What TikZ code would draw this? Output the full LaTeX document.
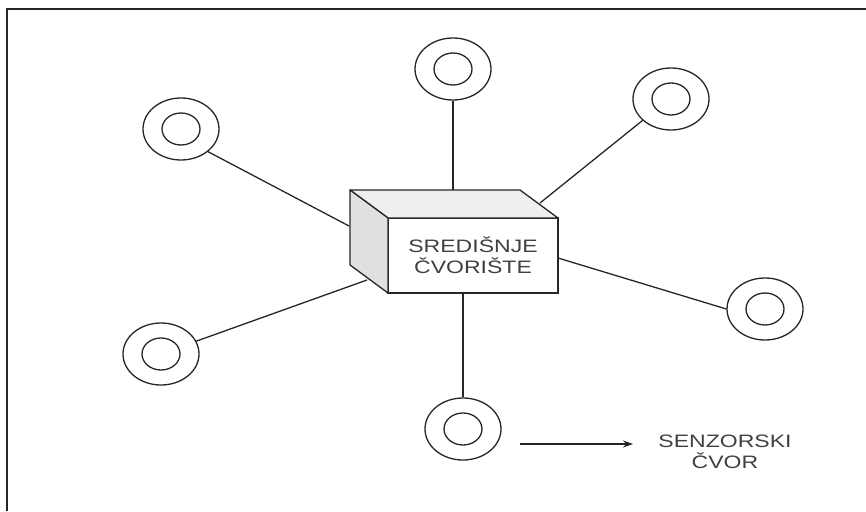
\documentclass[tikz,border=0pt]{standalone}
\usepackage{graphicx}
\usepackage{fontspec}
\setmainfont{Liberation Sans}
\usetikzlibrary{shapes.geometric,arrows.meta}
\definecolor{edge}{HTML}{262626}
\definecolor{txtgray}{HTML}{404040}
\definecolor{topgray}{HTML}{EFEFEF}
\definecolor{sidegray}{HTML}{E0E0E0}
\newcommand{\wide}[1]{\scalebox{1.28}[1]{#1}}

\begin{document}
\begin{tikzpicture}[x=1pt, y=-1pt,
  ring/.style={ellipse, draw=edge, line width=1.3pt, minimum width=76pt, minimum height=62pt, inner sep=0pt,
    path picture={\draw[edge, line width=1.3pt] (path picture bounding box.center) ellipse [x radius=19pt, y radius=16pt];}},
  link/.style={draw=edge, line width=1.3pt},
  txt/.style={text=txtgray, align=center, font=\fontsize{18}{21}\selectfont}]
\useasboundingbox (0,0) rectangle (866,511);
% frame
\draw[edge, line width=2pt] (7,511) -- (7,9) -- (866,9);
% sensor nodes
\foreach \n/\p in {r1/{(181,129)}, r2/{(453,69)}, r3/{(671,99)}, r4/{(765,309)}, r5/{(161,354)}, r6/{(463,429)}}{
\node[ring] (\n) at \p {};
}
% where the links meet the hub
\coordinate (c1) at (349,226);
\coordinate (c2) at (453,190);
\coordinate (c3) at (540,203);
\coordinate (c4) at (558,258);
\coordinate (c5) at (367,280);
\coordinate (c6) at (463,293);
\draw[link] (r1.-40) -- (c1);
\draw[link] (r2.south) -- (c2);
\draw[link] (r3.-143) -- (c3);
\draw[link] (r4.west) -- (c4);
\draw[link] (r5.20) -- (c5);
\draw[link] (r6.north) -- (c6);
% hub box
\node[draw=edge, line width=1.3pt, fill=white, minimum width=170pt, minimum height=75pt, inner sep=0pt, outer sep=0pt, txt] (hub) at (473,255.5) {\wide{SREDIŠNJE}\\\wide{ČVORIŠTE}};
\draw[edge, line width=1.3pt, fill=topgray, line join=round] (hub.north west) -- ++(-38,-28) -- ++(170,0) -- (hub.north east) -- cycle;
\draw[edge, line width=1.3pt, fill=sidegray, line join=round] (hub.north west) -- ++(-38,-28) -- ++(0,75) -- (hub.south west) -- cycle;
% legend
\node[txt] (key) at (725,452) {\wide{SENZORSKI}\\\wide{ČVOR}};
\coordinate (a0) at (520,444);
\draw[link, -{Stealth[length=10pt, width=7pt]}] (a0) -- (633,444);
\end{tikzpicture}
\end{document}
